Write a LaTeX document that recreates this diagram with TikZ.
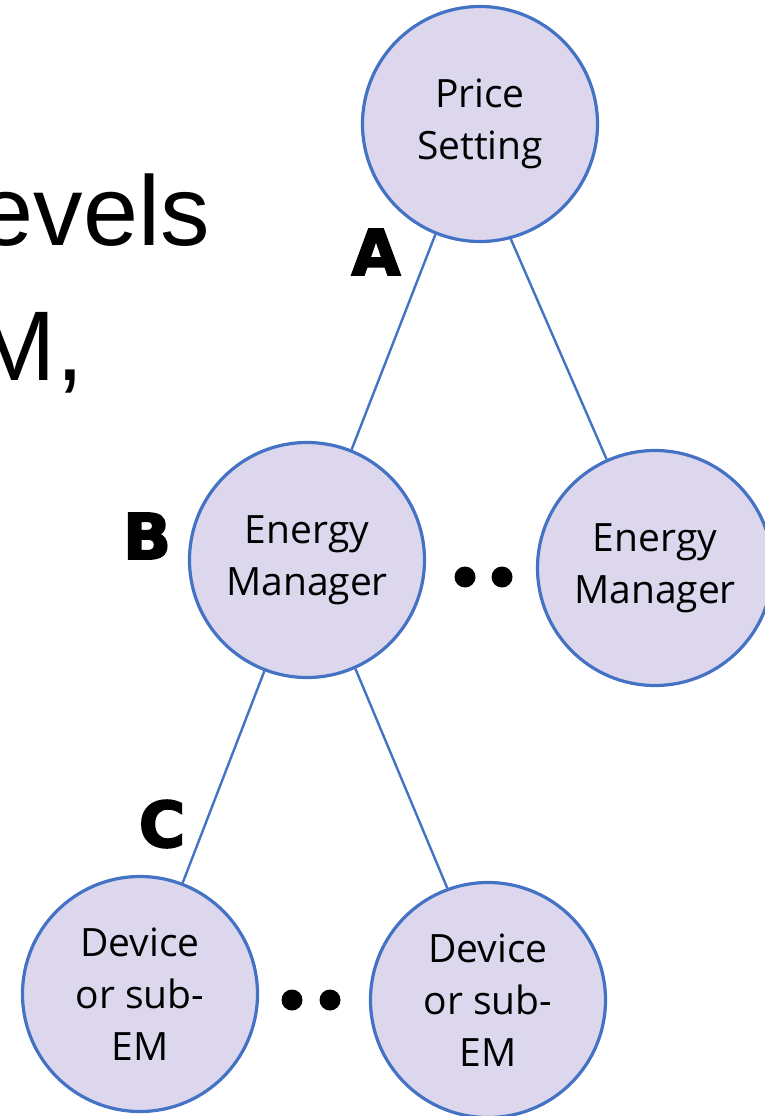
\documentclass[tikz,border=0pt]{standalone}
\usepackage{fontspec}
\setmainfont{Open Sans}
\newfontfamily\bigfont{Liberation Sans}
\newfontfamily\heavyfont[FakeBold=3]{DejaVu Sans Bold}
\definecolor{lav}{RGB}{221,215,238}
\definecolor{edgeblue}{RGB}{68,114,196}
\begin{document}
\begin{tikzpicture}[x=1pt,y=-1pt,
  bub/.style={circle,draw=edgeblue,fill=lav,line width=3.2pt,minimum size=235pt,inner sep=0pt,align=center,
    font=\fontsize{39}{52}\selectfont},
  link/.style={draw=edgeblue,line width=2.4pt},
  dotnode/.style={circle,fill=black,minimum size=21pt,inner sep=0pt},
  tag/.style={font=\heavyfont\fontsize{63}{63}\selectfont,inner sep=0pt},
  bigtext/.style={font=\bigfont\fontsize{99}{99}\selectfont,inner sep=0pt,anchor=base east}]
\useasboundingbox (0,0) rectangle (765,1116);
\node[bigtext] (t1) at (210,245) {evels};
\node[bigtext] (t2) at (84,380) {M,};
\node[bub] (ps) at (480,124) {Price\\Setting};
\node[bub] (em1) at (307,560) {Energy\\Manager};
\node[bub] (em2) at (655,568) {Energy\\Manager};
\node[bub] (d1) at (140,994) {Device\\or sub-\\EM};
\node[bub] (d2) at (488,1000) {Device\\or sub-\\EM};
\draw[link] (ps.-112) -- (em1.68.5);
\draw[link] (ps.-75.5) -- (em2.114);
\draw[link] (em1.-111.6) -- (d1.69);
\draw[link] (em1.-66) -- (d2.110);
\node[dotnode] (dt1) at (465,577) {};
\node[dotnode] (dt2) at (502,577) {};
\node[dotnode] (dt3) at (292,1000) {};
\node[dotnode] (dt4) at (330,1000) {};
\node[tag] (la) at (376,252) {A};
\node[tag] (lb) at (147,536) {B};
\node[tag] (lc) at (162,824) {C};
\end{tikzpicture}
\end{document}
